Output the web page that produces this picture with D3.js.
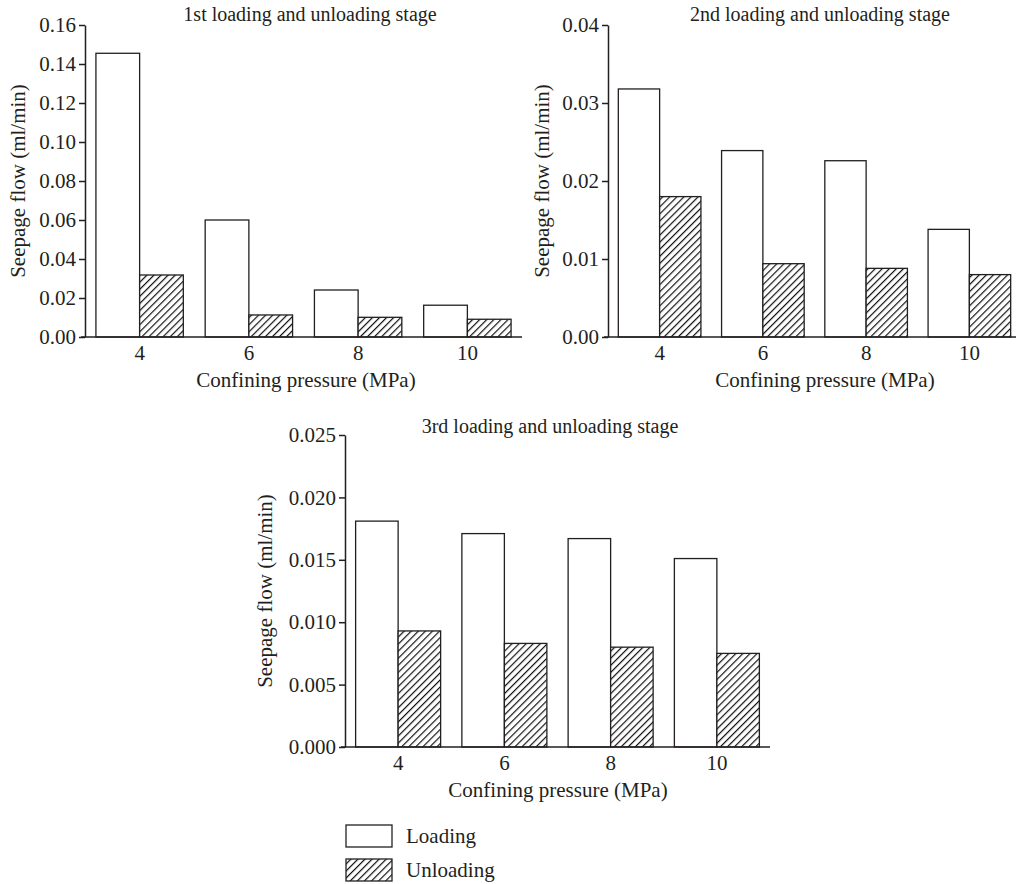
<!DOCTYPE html>
<html>
<head>
<meta charset="utf-8">
<script src="https://cdn.jsdelivr.net/npm/d3@7"></script>
<style>
  html, body { margin: 0; padding: 0; background: #fff; }
  svg { display: block; font-family: "Liberation Serif", "DejaVu Serif", serif; }
  text { fill: #231f20; }
</style>
</head>
<body>
<svg id="chart" width="1016" height="884"></svg>
<script>
// Confining pressure levels (MPa)
const pressures = ["4", "6", "8", "10"];

// Seepage flow (ml/min) for each loading/unloading stage
const stage1Loading   = [0.1455, 0.0600, 0.0241, 0.0163];
const stage1Unloading = [0.0318, 0.0113, 0.0101, 0.0091];

const stage2Loading   = [0.0318, 0.0239, 0.0226, 0.0138];
const stage2Unloading = [0.0180, 0.0094, 0.0088, 0.0080];

const stage3Loading   = [0.0181, 0.0171, 0.0167, 0.0151];
const stage3Unloading = [0.0093, 0.0083, 0.0080, 0.0075];

// Y-axis tick values per stage
const stage1Ticks = [0, 0.02, 0.04, 0.06, 0.08, 0.10, 0.12, 0.14, 0.16];
const stage2Ticks = [0, 0.01, 0.02, 0.03, 0.04];
const stage3Ticks = [0, 0.005, 0.010, 0.015, 0.020, 0.025];

const titles = [
  "1st loading and unloading stage",
  "2nd loading and unloading stage",
  "3rd loading and unloading stage"
];
const seriesNames = ["Loading", "Unloading"];
const xTitle = "Confining pressure (MPa)";
const yTitle = "Seepage flow (ml/min)";

const ink = "#231f20";
const fontSize = 21;
const titleSize = 20;
const svg = d3.select("#chart");

// Diagonal hatching used for the unloading bars
const defs = svg.append("defs");
const pat = defs.append("pattern")
  .attr("id", "hatch")
  .attr("patternUnits", "userSpaceOnUse")
  .attr("width", 5)
  .attr("height", 5)
  .attr("patternTransform", "rotate(45)");
pat.append("rect").attr("width", 5).attr("height", 5).attr("fill", "#fff");
pat.append("line")
  .attr("x1", 0.6).attr("y1", 0).attr("x2", 0.6).attr("y2", 5)
  .attr("stroke", "#111").attr("stroke-width", 1.2);

const fills = ["#fff", "url(#hatch)"];

function panel(cfg) {
  const g = svg.append("g");
  const x0 = d3.scaleBand().domain(pressures)
    .range([cfg.left, cfg.right]).paddingInner(0.2).paddingOuter(0.1);
  const x1 = d3.scaleBand().domain(seriesNames).range([0, x0.bandwidth()]);
  const y = d3.scaleLinear().domain([0, cfg.max]).range([cfg.bottom, cfg.top]);

  const rows = pressures.map((p, i) => ({ p, vals: [cfg.loading[i], cfg.unloading[i]] }));

  const groups = g.selectAll("g.grp").data(rows).join("g")
    .attr("class", "grp")
    .attr("transform", d => `translate(${x0(d.p)},0)`);
  groups.selectAll("rect").data(d => d.vals.map((v, k) => ({ v, k }))).join("rect")
    .attr("x", d => x1(seriesNames[d.k]))
    .attr("width", x1.bandwidth())
    .attr("y", d => y(d.v))
    .attr("height", d => y(0) - y(d.v))
    .attr("fill", d => fills[d.k])
    .attr("stroke", ink)
    .attr("stroke-width", 1.3);

  // Y axis
  const ya = g.append("g").attr("transform", `translate(${cfg.left},0)`)
    .call(d3.axisLeft(y).tickValues(cfg.ticks).tickFormat(d3.format(cfg.fmt))
      .tickSize(6).tickSizeOuter(0).tickPadding(3));
  ya.select(".domain").attr("stroke", ink).attr("stroke-width", 1.5);
  ya.selectAll(".tick line").attr("stroke", ink).attr("stroke-width", 1.5);
  ya.selectAll(".tick text").attr("font-size", fontSize).attr("fill", ink)
    .attr("font-family", "Liberation Serif, serif");

  // X axis
  const xa = g.append("g").attr("transform", `translate(0,${cfg.bottom})`)
    .call(d3.axisBottom(x0).tickSize(0).tickPadding(8));
  xa.select(".domain").attr("stroke", ink).attr("stroke-width", 1.5)
    .attr("d", `M${cfg.left - 4},0H${cfg.right}`);
  xa.selectAll(".tick text").attr("font-size", fontSize).attr("fill", ink)
    .attr("font-family", "Liberation Serif, serif");

  g.append("text").attr("x", cfg.titleX).attr("y", cfg.titleY)
    .attr("text-anchor", "middle").attr("font-size", titleSize).text(cfg.title);
  g.append("text").attr("x", cfg.xLabelX).attr("y", cfg.bottom + 50)
    .attr("text-anchor", "middle").attr("font-size", fontSize).text(xTitle);
  g.append("text")
    .attr("transform", `translate(${cfg.yLabelX},${(cfg.top + cfg.bottom) / 2}) rotate(-90)`)
    .attr("text-anchor", "middle").attr("font-size", fontSize).text(yTitle);
}

panel({ left: 85, right: 522, top: 25, bottom: 337, max: 0.16, ticks: stage1Ticks, fmt: ".2f",
  loading: stage1Loading, unloading: stage1Unloading, title: titles[0],
  titleX: 310, titleY: 21, xLabelX: 306, yLabelX: 25 });

panel({ left: 608, right: 1021, top: 25, bottom: 337, max: 0.04, ticks: stage2Ticks, fmt: ".2f",
  loading: stage2Loading, unloading: stage2Unloading, title: titles[1],
  titleX: 820, titleY: 21, xLabelX: 825, yLabelX: 549 });

panel({ left: 345, right: 770, top: 435, bottom: 747, max: 0.025, ticks: stage3Ticks, fmt: ".3f",
  loading: stage3Loading, unloading: stage3Unloading, title: titles[2],
  titleX: 550, titleY: 433, xLabelX: 558, yLabelX: 272 });

// Legend
const lg = svg.append("g");
seriesNames.forEach((name, i) => {
  const yy = 825 + i * 34;
  lg.append("rect").attr("x", 346).attr("y", yy).attr("width", 46).attr("height", 22)
    .attr("fill", fills[i]).attr("stroke", ink).attr("stroke-width", 1.3);
  lg.append("text").attr("x", 406).attr("y", yy + 18).attr("font-size", fontSize).text(name);
});
</script>
</body>
</html>
